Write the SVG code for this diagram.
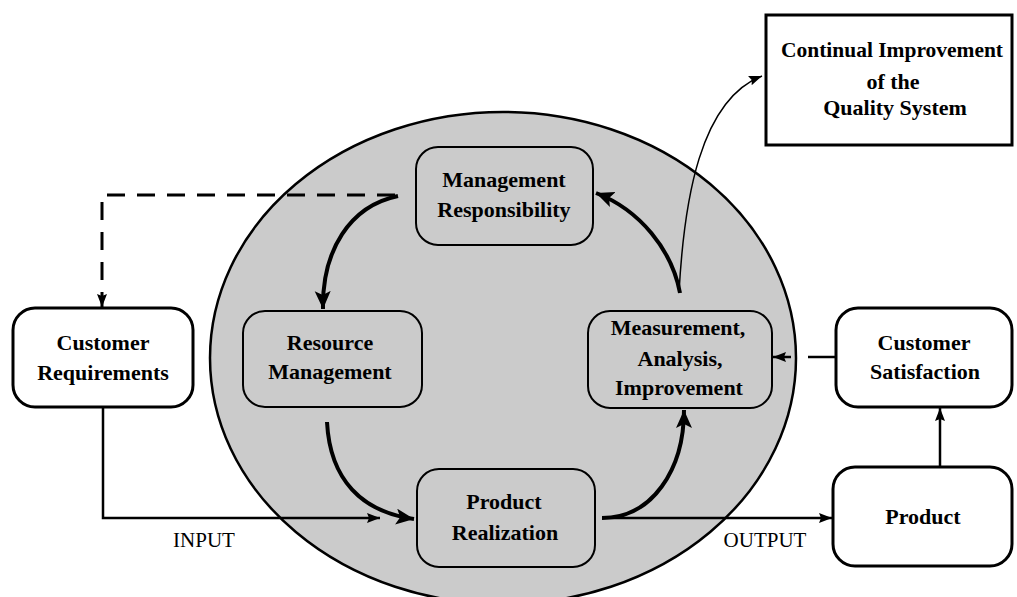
<svg xmlns="http://www.w3.org/2000/svg" width="1017" height="597" viewBox="0 0 1017 597">
<style>
.bg{fill:#ffffff}
.in{fill:#cbcbcb;stroke:#000;stroke-width:2}
.out{fill:#ffffff;stroke:#000;stroke-width:3}
.t{font-family:"Liberation Serif","Times New Roman",serif;font-weight:bold;font-size:22px;text-anchor:middle;fill:#000}
.lbl{font-family:"Liberation Serif","Times New Roman",serif;font-size:21px;fill:#000}
.thick{fill:none;stroke:#000;stroke-width:4}
.thin{fill:none;stroke:#000;stroke-width:2.5}
.hair{fill:none;stroke:#000;stroke-width:1.5}
.dash{fill:none;stroke:#000;stroke-width:3;stroke-dasharray:18 12}
</style>
<defs>
<marker id="big" markerUnits="userSpaceOnUse" markerWidth="20" markerHeight="18" refX="18" refY="8" orient="auto">
<path d="M0,0 L18,8 L0,16 L4,8 z" fill="#000"/>
</marker>
<marker id="small" markerUnits="userSpaceOnUse" markerWidth="14" markerHeight="12" refX="13" refY="5" orient="auto">
<path d="M0,0 L13,5 L0,10 L2,5 z" fill="#000"/>
</marker>
</defs>
<rect class="bg" x="0" y="0" width="1017" height="597"/>
<ellipse id="system" cx="503" cy="358" rx="293" ry="246" fill="#cbcbcb" stroke="#000" stroke-width="2.5"/>

<g id="connectors">
<path class="dash" d="M395 195 H102 V307" marker-end="url(#small)"/>
<path class="thick" d="M398 196 C350 206 322 250 323 309" marker-end="url(#big)"/>
<path class="thick" d="M327 422 C330 480 362 512 414 519" marker-end="url(#big)"/>
<path class="thin" d="M103 407 V518 H380" marker-end="url(#small)"/>
<path class="thin" d="M602 518 H832" marker-end="url(#small)"/>
<path class="thick" d="M602 518 C652 518 684 470 684 410" marker-end="url(#big)"/>
<path class="thick" d="M680 293 C672 250 640 210 596 193" marker-end="url(#big)"/>
<path class="hair" d="M679 293 C684 200 700 100 762 76" marker-end="url(#small)"/>
<path class="thin" d="M836 357 H808"/>
<path class="thin" d="M791 357 H773" marker-end="url(#small)"/>
<path class="thin" d="M940 467 V408" marker-end="url(#small)"/>
</g>
<text class="lbl" x="204" y="547" text-anchor="middle">INPUT</text>
<text class="lbl" x="765" y="547" text-anchor="middle">OUTPUT</text>

<g id="continual-improvement">
<rect x="766" y="15" width="246" height="130" fill="#fff" stroke="#000" stroke-width="3"/>
<text class="t" x="892" y="57" textLength="222" lengthAdjust="spacingAndGlyphs">Continual Improvement</text>
<text class="t" x="893" y="89">of the</text>
<text class="t" x="895" y="115">Quality System</text>
</g>

<g id="management-responsibility">
<rect class="in" x="416" y="147" width="177" height="98" rx="22"/>
<text class="t" x="504" y="187">Management</text>
<text class="t" x="504" y="217">Responsibility</text>
</g>

<g id="resource-management">
<rect class="in" x="243" y="311" width="179" height="96" rx="22"/>
<text class="t" x="330" y="350">Resource</text>
<text class="t" x="330" y="379">Management</text>
</g>

<g id="measurement">
<rect class="in" x="588" y="311" width="184" height="97" rx="22"/>
<text class="t" x="678" y="335">Measurement,</text>
<text class="t" x="680" y="366">Analysis,</text>
<text class="t" x="679" y="395">Improvement</text>
</g>

<g id="product-realization">
<rect class="in" x="417" y="469" width="178" height="98" rx="22"/>
<text class="t" x="504" y="509">Product</text>
<text class="t" x="505" y="540">Realization</text>
</g>

<g id="customer-requirements">
<rect class="out" x="13" y="308" width="180" height="99" rx="22"/>
<text class="t" x="103" y="350">Customer</text>
<text class="t" x="103" y="380">Requirements</text>
</g>

<g id="customer-satisfaction">
<rect class="out" x="836" y="308" width="176" height="99" rx="22"/>
<text class="t" x="924" y="350">Customer</text>
<text class="t" x="925" y="379">Satisfaction</text>
</g>

<g id="product">
<rect class="out" x="833" y="467" width="179" height="99" rx="22"/>
<text class="t" x="923" y="524">Product</text>
</g>
</svg>
